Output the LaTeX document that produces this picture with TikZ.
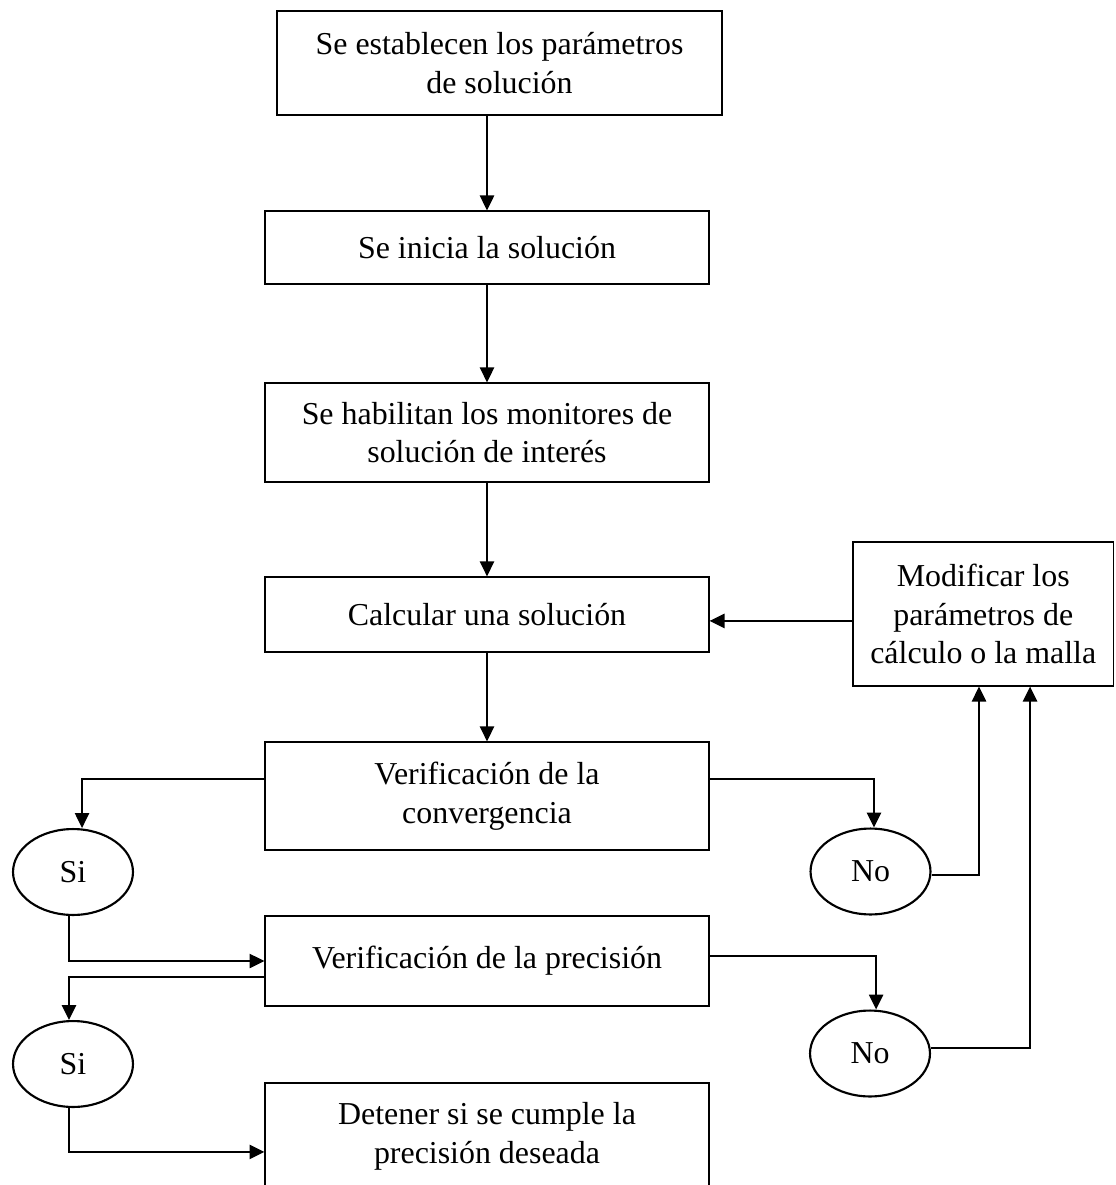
\documentclass[tikz,border=0pt]{standalone}
\usepackage{fontspec}
\setmainfont{Liberation Serif}
\usetikzlibrary{shapes.geometric}
\usetikzlibrary{arrows.meta}
\tikzset{caja/.style={draw,rectangle,align=center,inner sep=2pt,line width=0.5pt,font=\fontsize{12pt}{14.5pt}\selectfont}}
\tikzset{elip/.style={draw,ellipse,inner sep=0pt,line width=0.8pt,minimum width=45.1pt,minimum height=32.3pt,font=\fontsize{12pt}{14.5pt}\selectfont}}
\tikzset{>={Triangle[length=5.6pt,width=5.4pt]}}

\begin{document}
\begin{tikzpicture}[x=0.376pt,y=-0.376pt,line width=0.5pt]
\useasboundingbox (0,0) rectangle (1115,1185);
% columna central
\node[caja,minimum width=167.3pt,minimum height=39.1pt] (param) at (499.5,63) {Se establecen los parámetros\\de solución};
\node[caja,minimum width=166.9pt,minimum height=27.4pt] (inicio) at (487,247.5) {Se inicia la solución};
\node[caja,minimum width=166.9pt,minimum height=37.2pt] (monit) at (487,432.5) {Se habilitan los monitores de\\solución de interés};
\node[caja,minimum width=166.9pt,minimum height=28.2pt] (calc) at (487,614.5) {Calcular una solución};
\node[caja,minimum width=166.9pt,minimum height=40.6pt] (conv) at (487,796) {Verificación de la\\convergencia};
\node[caja,minimum width=166.9pt,minimum height=33.8pt] (prec) at (487,961) {Verificación de la precisión};
\node[caja,minimum width=166.9pt,minimum height=40.2pt] (deten) at (487,1136.5) {Detener si se cumple la\\precisión deseada};
\node[caja,minimum width=97.9pt,minimum height=54.1pt] (modif) at (983.25,614) {Modificar los\\parámetros de\\cálculo o la malla};

% si / no
\node[elip] (si1) at (73,872) {Si};
\node[elip] (si2) at (73,1064) {Si};
\node[elip] (no1) at (870.5,871.5) {No};
\node[elip] (no2) at (870,1053.5) {No};

\draw[->] (param.south -| inicio.north) -- (inicio.north);
\draw[->] (inicio.south) -- (monit.north);
\draw[->] (monit.south) -- (calc.north);
\draw[->] (calc.south) -- (conv.north);
\draw[->] ([yshift=-2.6pt]modif.west) -- ([yshift=-2.6pt]modif.west -| calc.east);

\draw[->] ([yshift=6.4pt]conv.west) -| ([xshift=3.4pt]si1.north);
\draw[->] ([xshift=-1.5pt]si1.south) |- (prec.west);
\draw[->] ([yshift=-6pt]prec.west) -| ([xshift=-1.5pt]si2.north);
\draw[->] ([xshift=-1.5pt]si2.south) |- ([yshift=-5.8pt]deten.west);

\draw[->] ([yshift=6.4pt]conv.east) -| ([xshift=1.3pt]no1.north);
\draw[->] ([yshift=-1.3pt]no1.east) -| ([xshift=-1.6pt]modif.south);
\draw[->] ([yshift=1.9pt]prec.east) -| ([xshift=2.3pt]no2.north);
\draw[->] ([yshift=2.1pt]no2.east) -| ([xshift=17.6pt]modif.south);
\end{tikzpicture}
\end{document}
